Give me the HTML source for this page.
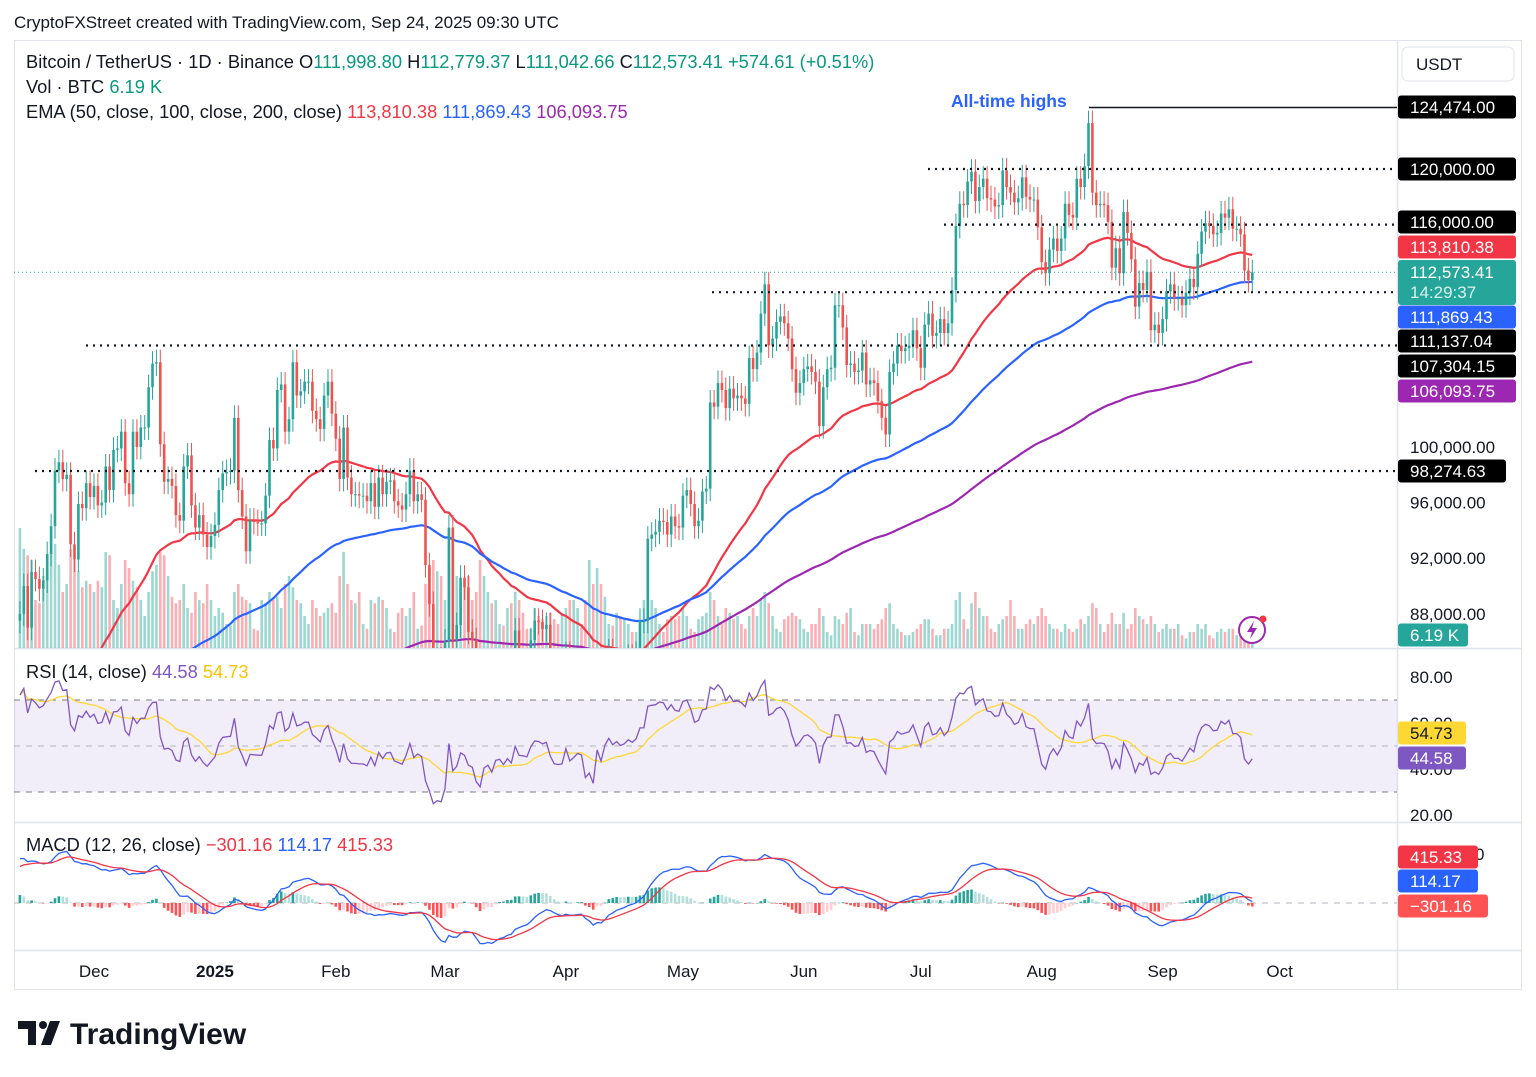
<!DOCTYPE html>
<html><head><meta charset="utf-8"><style>
body{margin:0;background:#fff;width:1536px;height:1077px;overflow:hidden;font-family:"Liberation Sans",sans-serif}
svg{position:absolute;left:0;top:0}
</style></head><body>
<svg id="c" width="1536" height="1077" xmlns="http://www.w3.org/2000/svg"></svg>
<script>
const closes=[88.0,90.0,87.0,91.0,90.5,89.8,90.4,92.3,94.3,98.3,98.9,97.7,98.0,93.0,91.9,95.9,95.6,97.4,96.4,
97.2,95.8,96.0,98.6,96.9,99.8,99.9,101.1,97.4,96.6,101.1,100.0,101.4,101.4,104.3,106.0,106.1,100.2,97.5,97.7,97.2,95.1,94.7,98.6,99.4,95.8,94.2,95.1,93.7,92.8,93.6,
94.4,96.9,98.1,98.2,98.3,102.1,96.9,95.0,92.5,94.7,94.6,94.5,94.5,96.5,100.5,99.9,104.1,104.5,101.1,102.0,106.1,103.7,104.0,104.7,104.7,102.6,102.0,101.3,103.7,104.7,102.4,
100.6,97.7,101.4,97.8,96.6,96.6,96.5,96.5,96.1,97.4,95.7,97.8,96.6,97.5,97.6,96.1,95.8,95.5,96.6,98.3,96.1,96.6,96.2,91.5,88.7,84.3,84.7,84.3,
86.0,94.2,86.1,87.2,90.6,89.9,86.7,86.1,80.7,78.5,82.9,83.6,81.1,84.0,84.3,82.6,84.0,82.7,86.8,84.2,84.1,83.8,86.1,87.5,87.4,86.9,87.2,84.4,82.6,82.4,82.5,
85.1,82.5,83.1,83.8,83.5,78.4,79.1,76.3,82.6,79.6,83.4,85.3,83.7,84.5,83.6,84.0,84.9,84.4,85.1,87.5,87.5,93.4,93.7,93.9,94.7,94.6,93.7,95.0,94.3,94.2,
96.5,96.9,95.9,94.3,94.7,96.8,97.0,103.2,102.9,104.6,104.1,102.8,104.2,103.5,103.7,103.5,103.1,106.4,105.6,106.8,109.6,111.7,107.3,107.8,109.0,109.4,108.9,107.8,105.6,103.9,104.6,
105.6,105.8,105.4,104.7,101.5,104.3,105.6,105.7,110.2,110.2,108.6,105.9,106.0,105.4,105.5,106.8,104.5,104.8,104.6,103.3,102.1,100.9,105.4,106.0,107.3,106.9,107.1,107.3,108.4,107.1,
105.7,108.8,109.6,108.0,108.2,109.2,108.2,108.9,111.3,115.9,117.5,117.4,119.1,119.8,117.7,118.7,119.3,117.9,117.8,117.3,117.4,119.9,118.7,118.3,117.6,117.9,119.4,118.0,117.8,117.8,115.8,
113.3,112.5,114.2,115.0,114.1,115.0,117.5,116.7,116.5,119.3,118.7,120.2,123.3,118.3,117.4,117.5,117.4,116.2,112.9,114.3,112.5,116.9,115.4,113.5,110.1,111.8,111.3,112.6,108.4,108.8,108.2,
109.2,111.2,111.7,110.7,110.7,110.2,111.1,112.1,111.5,113.9,115.5,116.1,115.9,115.3,115.4,116.8,116.5,117.1,115.7,115.7,115.3,112.7,112.0,112.57];
const volumes=[75,62,58,55,30,28,45,50,60,65,52,35,40,62,55,48,38,42,40,
35,42,38,60,58,30,25,40,55,50,42,38,30,20,35,48,52,60,58,45,32,28,30,40,25,22,35,30,28,40,30,
20,25,22,15,14,35,40,32,30,28,12,11,30,28,35,30,32,25,40,45,38,30,28,20,15,30,25,20,22,25,28,
22,45,60,40,30,28,35,15,12,30,28,32,30,25,12,10,22,25,20,25,35,12,14,40,50,55,48,45,
30,50,55,45,40,38,45,30,35,55,45,35,28,30,15,14,25,28,35,30,22,12,12,25,20,18,20,22,18,15,22,
25,30,30,25,15,30,55,40,50,40,32,15,14,22,20,18,15,10,10,15,30,35,30,25,15,10,18,20,18,20,
25,20,12,10,18,20,22,35,30,20,15,25,22,18,20,15,12,20,25,20,30,35,28,20,12,10,18,20,22,20,18,
12,10,15,15,25,20,10,8,20,18,15,22,25,10,8,15,15,15,12,15,18,25,28,15,12,10,8,8,10,12,
15,18,18,12,8,8,12,12,15,30,35,18,12,28,35,25,20,20,12,10,15,18,20,30,20,12,12,15,18,15,20,
25,20,15,12,12,10,15,12,10,12,18,15,20,28,25,15,10,15,22,15,15,22,12,15,25,20,18,15,20,15,10,
12,15,12,12,15,8,6,10,10,15,12,15,8,6,10,12,10,12,12,8,8,15,10,6];
const firstOpen=87.5;
const monthLabels=["Dec","2025","Feb","Mar","Apr","May","Jun","Jul","Aug","Sep","Oct"];
const monthDayIdx=[19,50,81,109,140,170,201,231,262,293,323];
const priceTicks=[100000,96000,92000,88000];
const levels=[120000,116000,111137.04,107304.15,98274.63];
const levelStart=[928,944,712,86,35];
const rsiTicks=[80,60,40,20];
const emaSeeds=[73,68,64];

const svg=document.getElementById('c');const NS='http://www.w3.org/2000/svg';
function el(t,a,p){const e=document.createElementNS(NS,t);for(const k in a)e.setAttribute(k,a[k]);(p||svg).appendChild(e);return e;}
const X=i=>94+(i-19)*3.9;
const Y=p=>447-(p-100000)*0.0139;
const RY=v=>677+(80-v)*2.3;
const MY=v=>903-v*0.0115;
const defs=el('defs',{});
const cp=el('clipPath',{id:'pp'},defs);el('rect',{x:14,y:40,width:1383,height:608},cp);
const cr=el('clipPath',{id:'rp'},defs);el('rect',{x:14,y:649,width:1383,height:172},cr);
const cm=el('clipPath',{id:'mp'},defs);el('rect',{x:14,y:823,width:1383,height:126},cm);

let t=el('text',{x:14,y:28,'font-size':17,fill:'#131722'});t.textContent='CryptoFXStreet created with TradingView.com, Sep 24, 2025 09:30 UTC';

const fr=el('rect',{x:14.5,y:40.5,width:1507,height:949,fill:'none',stroke:'#e0e3eb'});

[648,822,950].forEach(y=>el('line',{x1:14,x2:1522,y1:y+.5,y2:y+.5,stroke:'#e0e3eb','stroke-width':1.5}));
el('line',{x1:1397.5,x2:1397.5,y1:40,y2:990,stroke:'#e0e3eb','stroke-width':1.5});

const gP=el('g',{'clip-path':'url(#pp)'});

closes.forEach((c,i)=>{const o=i?closes[i-1]:firstOpen;const h=volumes[i]*1.6;
 const r=el('rect',{x:X(i)-1.3,y:648-h,width:2.6,height:h,fill:c>=o?'rgba(38,166,154,0.45)':'rgba(242,54,69,0.4)'},gP);
 });
function ema(n,seed){const a=2/(n+1);let e=seed;return closes.map(c=>{e=e+(c-e)*a;return e;});}
const emaCols=['#f23645','#2962ff','#9c27b0'];const emaNames=['ema-50-line','ema-100-line','ema-200-line'];
[50,100,200].forEach((n,k)=>{const v=ema(n,emaSeeds[k]);
 const p=el('path',{d:v.map((e,i)=>(i?'L':'M')+X(i).toFixed(1)+','+Y(e*1000).toFixed(1)).join(''),fill:'none',stroke:emaCols[k],'stroke-width':2.2},gP);
 });
closes.forEach((c,i)=>{const o=i?closes[i-1]:firstOpen;const up=c>=o;const col=up?'#26a69a':'#ef5350';
 const hi=Math.max(o,c)*1000+900,lo=Math.min(o,c)*1000-900;
 const g=el('g',{},gP);
 el('line',{x1:X(i),x2:X(i),y1:Y(hi),y2:Y(lo),stroke:col,'stroke-width':1},g);
 const yt=Y(Math.max(o,c)*1000),yb=Y(Math.min(o,c)*1000);
 el('rect',{x:X(i)-1.3,y:yt,width:2.6,height:Math.max(1,yb-yt),fill:col},g);});
levels.forEach((lv,k)=>{const l=el('line',{x1:levelStart[k],x2:1397,y1:Y(lv),y2:Y(lv),stroke:'#131722','stroke-width':2.2,'stroke-dasharray':'2,5'});
 });
const ath=el('line',{x1:1089,x2:1397,y1:107.5,y2:107.5,stroke:'#131722','stroke-width':1.5});

const cur=el('line',{x1:14,x2:1397,y1:Y(112573.41),y2:Y(112573.41),stroke:'#26a69a','stroke-width':1,'stroke-dasharray':'1,3'});

t=el('text',{x:951,y:107,'font-size':17.5,'font-weight':'bold',fill:'#2962ff'});t.textContent='All-time highs';

const li=el('g',{});
el('circle',{cx:1252,cy:630,r:13,fill:'#fff',stroke:'#9c27b0','stroke-width':2},li);
el('path',{d:'M1254 621 L1247 632 L1252 632 L1250 639 L1257 628 L1252 628 Z',fill:'#9c27b0'},li);
el('circle',{cx:1263,cy:619,r:3.5,fill:'#f23645'},li);

function hdr(y,parts,name){const tx=el('text',{x:26,y:y,'font-size':18.3});
 parts.forEach(([s,c])=>{const ts=el('tspan',{fill:c},tx);ts.textContent=s;});}
const G='#089981',K='#131722';
hdr(68,[['Bitcoin / TetherUS · 1D · Binance  ',K],['O',K],['111,998.80 ',G],['H',K],['112,779.37 ',G],['L',K],['111,042.66 ',G],['C',K],['112,573.41 ',G],['+574.61 (+0.51%)',G]],'ohlc-legend');
hdr(93,[['Vol · BTC  ',K],['6.19 K',G]],'volume-legend');
hdr(118,[['EMA (50, close, 100, close, 200, close)  ',K],['113,810.38  ','#f23645'],['111,869.43  ','#2962ff'],['106,093.75','#9c27b0']],'ema-legend');

const ub=el('rect',{x:1402,y:47,width:112,height:34,rx:6,fill:'#fff',stroke:'#e0e3eb'});

t=el('text',{x:1416,y:70,'font-size':17,fill:K});t.textContent='USDT';
function tag(y,txt,bg,fg,w,name,h){h=h||23;const g=el('g',{});
 if(bg)el('rect',{x:1398,y:y-h/2,width:w||118,height:h,rx:3,fill:bg},g);
 const tx=el('text',{x:1410,y:y+6,'font-size':17,fill:fg},g);tx.textContent=txt;return g;}
tag(107,'124,474.00','#000','#fff',118,'ath-price-tag');
tag(169,'120,000.00','#000','#fff',118,'level-120000-tag');
tag(222,'116,000.00','#000','#fff',118,'level-116000-tag');
tag(247,'113,810.38','#f23645','#fff',118,'ema50-tag');
{const g=el('g',{});
 el('rect',{x:1398,y:260,width:118,height:45,rx:3,fill:'#26a69a'},g);
 let a=el('text',{x:1410,y:278,'font-size':17,fill:'#fff'},g);a.textContent='112,573.41';
 a=el('text',{x:1410,y:298,'font-size':17,fill:'#d8f1ee'},g);a.textContent='14:29:37';}
tag(317,'111,869.43','#2962ff','#fff',118,'ema100-tag');
tag(341,'111,137.04','#000','#fff',118,'level-111137-tag');
tag(366,'107,304.15','#000','#fff',118,'level-107304-tag');
tag(391,'106,093.75','#9c27b0','#fff',118,'ema200-tag');
priceTicks.forEach(p=>tag(Y(p),p.toLocaleString('en-US')+'.00',null,K,0,'price-tick'));
tag(471,'98,274.63','#000','#fff',108,'level-98274-tag');
tag(635,'6.19 K','#26a69a','#fff',70,'volume-tag');

const gR=el('g',{'clip-path':'url(#rp)'});
el('rect',{x:14,y:RY(70),width:1383,height:RY(30)-RY(70),fill:'rgba(126,87,194,0.1)'},gR);
[70,50,30].forEach(v=>el('line',{x1:14,x2:1397,y1:RY(v),y2:RY(v),stroke:v==50?'#b2b5be':'#787b86','stroke-width':1,'stroke-dasharray':'6,6'},gR));
let ag=1.0,al=0.4;const rsi=[];
closes.forEach((c,i)=>{const d=i?c-closes[i-1]:c-firstOpen;const g=Math.max(d,0),l=Math.max(-d,0);
 ag=(ag*13+g)/14;al=(al*13+l)/14;
 rsi.push(al===0?100:100-100/(1+ag/al));});
const rsiMa=rsi.map((v,i)=>{const s=rsi.slice(Math.max(0,i-13),i+1);return s.reduce((a,b)=>a+b,0)/s.length;});
let p=el('path',{d:rsiMa.map((v,i)=>(i?'L':'M')+X(i).toFixed(1)+','+RY(v).toFixed(1)).join(''),fill:'none',stroke:'#fdd835','stroke-width':1.3},gR);

p=el('path',{d:rsi.map((v,i)=>(i?'L':'M')+X(i).toFixed(1)+','+RY(v).toFixed(1)).join(''),fill:'none',stroke:'#7e57c2','stroke-width':1.3},gR);

hdr(678,[['RSI (14, close)  ',K],['44.58  ','#7e57c2'],['54.73','#f9c400']],'rsi-legend');
rsiTicks.forEach(v=>tag(RY(v),v.toFixed(2),null,K,0,'rsi-tick'));
tag(733,'54.73','#fdd835','#131722',68,'rsi-ma-tag');
tag(758,'44.58','#7e57c2','#fff',68,'rsi-tag');

const gM=el('g',{'clip-path':'url(#mp)'});
el('line',{x1:14,x2:1397,y1:MY(0),y2:MY(0),stroke:'#b2b5be','stroke-dasharray':'6,6'},gM);
let e12=86,e26=82,sg=3.0;const macd=[],sig=[];
closes.forEach(c=>{e12+=(c-e12)*2/13;e26+=(c-e26)*2/27;const m=(e12-e26);sg+=(m-sg)*2/10;macd.push(m*1000);sig.push(sg*1000);});
macd.forEach((m,i)=>{const h=m-sig[i];const ph=i?macd[i-1]-sig[i-1]:h;
 const col=h>=0?(h>=ph?'#26a69a':'#b2dfdb'):(h<ph?'#ff5252':'#ffcdd2');
 const y1=Math.min(MY(h),MY(0)),hh=Math.abs(MY(h)-MY(0));
 const r=el('rect',{x:X(i)-1.3,y:y1,width:2.6,height:Math.max(hh,0.5),fill:col},gM);
 });
p=el('path',{d:macd.map((v,i)=>(i?'L':'M')+X(i).toFixed(1)+','+MY(v).toFixed(1)).join(''),fill:'none',stroke:'#2962ff','stroke-width':1.3},gM);

p=el('path',{d:sig.map((v,i)=>(i?'L':'M')+X(i).toFixed(1)+','+MY(v).toFixed(1)).join(''),fill:'none',stroke:'#f23645','stroke-width':1.3},gM);

hdr(851,[['MACD (12, 26, close)  ',K],['−301.16  ','#f23645'],['114.17  ','#2962ff'],['415.33','#f23645']],'macd-legend');
t=el('text',{x:1475,y:860,'font-size':17,fill:K});t.textContent='0';
tag(857,'415.33','#f23645','#fff',80,'signal-tag');
tag(881,'114.17','#2962ff','#fff',80,'macd-tag');
tag(906,'−301.16','#ff5252','#fff',90,'histogram-tag');

monthLabels.forEach((m,k)=>{const tx=el('text',{x:X(monthDayIdx[k]),y:977,'font-size':17,fill:K,'text-anchor':'middle','font-weight':m==='2025'?'bold':'normal'});
 tx.textContent=m;});

const lg=el('g',{});
el('path',{d:'M18 1021 H36 V1045 H28 V1029 H18 Z',fill:'#131722'},lg);
el('circle',{cx:43,cy:1025,r:4,fill:'#131722'},lg);
el('path',{d:'M50 1021 H60 L51 1045 H41 Z',fill:'#131722'},lg);
t=el('text',{x:70,y:1044,'font-size':30,'font-weight':'bold',fill:'#131722'},lg);t.textContent='TradingView';
</script>
</body></html>
